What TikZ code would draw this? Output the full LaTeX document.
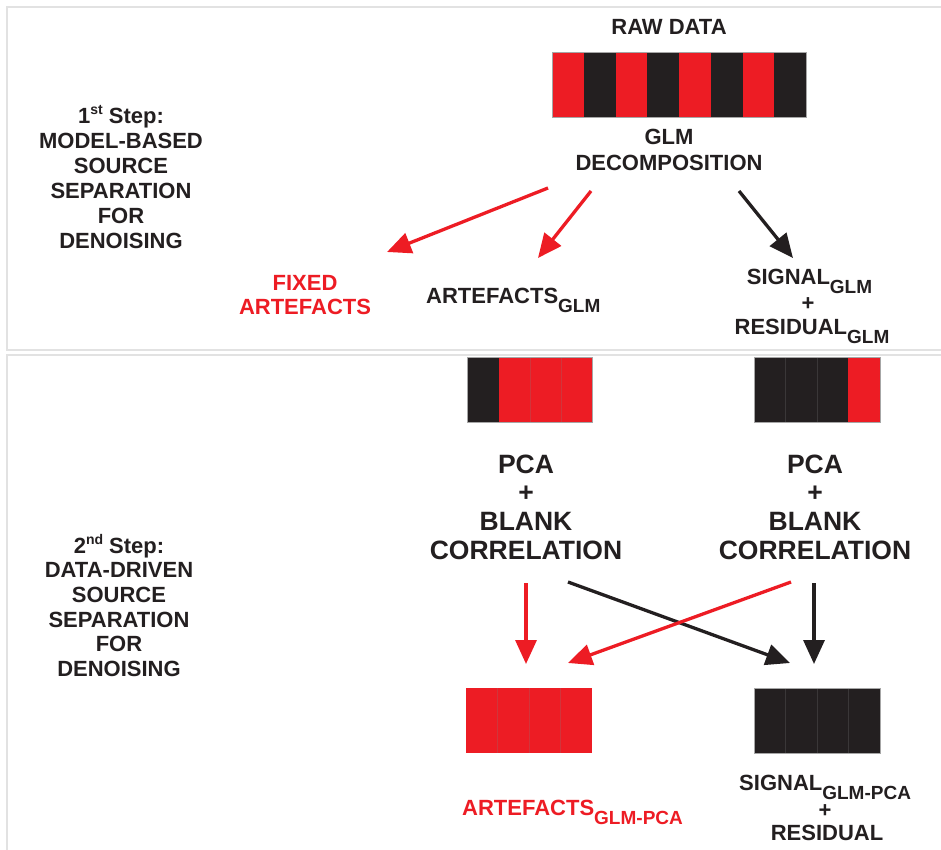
\documentclass[tikz,border=0pt]{standalone}
\usepackage{fontspec}
\setmainfont{Liberation Sans}
\usetikzlibrary{arrows.meta}
\definecolor{dred}{HTML}{ED1C24}
\definecolor{dblk}{HTML}{231F20}
\definecolor{pgray}{HTML}{E2E2E2}
\newcommand\lsub[1]{\raisebox{-9.5pt}{\fontsize{19}{19}\selectfont #1}}
\newcommand\lsup[1]{\raisebox{9pt}{\fontsize{14}{14}\selectfont #1}}
\tikzset{
  lbl/.style={font=\bfseries\fontsize{22}{25}\selectfont, text=dblk, inner sep=0pt, anchor=base},
  biglbl/.style={font=\bfseries\fontsize{26.5}{29}\selectfont, text=dblk, inner sep=0pt, anchor=base},
  redlbl/.style={lbl, text=dred},
  panel/.style={draw=pgray, line width=1.4pt},
  outline/.style={draw=black!35, line width=0.3pt},
  divline/.style={draw=gray, draw opacity=0.25, line width=0.3pt},
  arr/.style={line width=3.3pt, -{Triangle[length=24pt,width=21pt]}},
  redarr/.style={arr, draw=dred, fill=dred},
  blkarr/.style={arr, draw=dblk, fill=dblk},
}
\begin{document}
\begin{tikzpicture}[x=1pt,y=-1pt]
\useasboundingbox (0,0) rectangle (941,850);
\clip (0,0) rectangle (941,850);

% panels
\draw[panel] (7,7) rectangle (980,350);
\draw[panel] (7,355) rectangle (980,900);

% ---------- step 1 labels ----------
\node[lbl] (s1a) at (121,124) {1\lsup{st} Step:};
\node[lbl] (s1b) at (121,148.5) {MODEL-BASED};
\node[lbl] (s1c) at (121,173.5) {SOURCE};
\node[lbl] (s1d) at (121,198.5) {SEPARATION};
\node[lbl] (s1e) at (121,223.5) {FOR};
\node[lbl] (s1f) at (121,248.5) {DENOISING};

% ---------- step 2 labels ----------
\node[lbl] (s2a) at (119,553) {2\lsup{nd} Step:};
\node[lbl] (s2b) at (119,577.5) {DATA-DRIVEN};
\node[lbl] (s2c) at (119,602) {SOURCE};
\node[lbl] (s2d) at (119,627) {SEPARATION};
\node[lbl] (s2e) at (119,651.5) {FOR};
\node[lbl] (s2f) at (119,676) {DENOISING};

% ---------- raw data ----------
\node[lbl] (raw) at (669,35) {RAW DATA};
\foreach \i/\c in {0/dred,1/dblk,2/dred,3/dblk,4/dred,5/dblk,6/dred,7/dblk}
  \fill[\c] ({552+\i*31.75},52) rectangle ({552+(\i+1)*31.75},117);
\draw[outline] (552,52) rectangle (806,117);
\node[lbl] (glm1) at (669,145) {GLM};
\node[lbl] (glm2) at (669,171) {DECOMPOSITION};

% top results
\node[redlbl] (fix1) at (305,290) {FIXED};
\node[redlbl] (fix2) at (305,314) {ARTEFACTS};
\node[lbl, anchor=base west] (artg) at (426,303) {ARTEFACTS\lsub{GLM}};
\node[lbl] (sig1) at (809.5,284) {SIGNAL\lsub{GLM}};
\node[lbl] (plus1) at (808,310) {+};
\node[lbl] (res1) at (812,334) {RESIDUAL\lsub{GLM}};

% top arrows
\coordinate (a1s) at (548,188); \coordinate (a1e) at (387,252);
\coordinate (a2s) at (591,191); \coordinate (a2e) at (538,258);
\coordinate (a3s) at (739,191); \coordinate (a3e) at (793,258);
\draw[redarr] (a1s) -- (a1e);
\draw[redarr] (a2s) -- (a2e);
\draw[blkarr] (a3s) -- (a3e);

% ---------- second panel bars ----------
\fill[dblk] (467,357) rectangle (499,422);
\fill[dred] (499,357) rectangle (592,422);
\draw[divline] (530,357) -- (530,422) (561,357) -- (561,422);
\draw[outline] (467,357) rectangle (592,422);
\fill[dblk] (754,357) rectangle (848,422);
\fill[dred] (848,357) rectangle (880,422);
\draw[divline] (785,357) -- (785,422) (817,357) -- (817,422);
\draw[outline] (754,357) rectangle (880,422);

% PCA labels
\node[biglbl] (pl1) at (526,473) {PCA};
\node[biglbl] (pl2) at (526,501) {+};
\node[biglbl] (pl3) at (526,530) {BLANK};
\node[biglbl] (pl4) at (526,559) {CORRELATION};
\node[biglbl] (pr1) at (815,473) {PCA};
\node[biglbl] (pr2) at (815,501) {+};
\node[biglbl] (pr3) at (815,530) {BLANK};
\node[biglbl] (pr4) at (815,559) {CORRELATION};

% bottom arrows
\coordinate (b1s) at (526,583); \coordinate (b1e) at (526,664);
\coordinate (b2s) at (568,582); \coordinate (b2e) at (790,663);
\coordinate (b3s) at (791,582); \coordinate (b3e) at (568,663);
\coordinate (b4s) at (814,583); \coordinate (b4e) at (814,664);
\draw[redarr] (b1s) -- (b1e);
\draw[blkarr] (b2s) -- (b2e);
\draw[redarr] (b3s) -- (b3e);
\draw[blkarr] (b4s) -- (b4e);

% bottom bars
\fill[dred] (466,688) rectangle (592,753);
\draw[divline] (497.5,688) -- (497.5,753) (529,688) -- (529,753) (560.5,688) -- (560.5,753);
\fill[dblk] (754,688) rectangle (880,753);
\draw[divline] (785.5,688) -- (785.5,753) (817,688) -- (817,753) (848.5,688) -- (848.5,753);
\draw[outline] (754,688) rectangle (880,753);

% bottom labels
\node[redlbl, anchor=base west] (artp) at (462,815) {ARTEFACTS\lsub{GLM-PCA}};
\node[lbl, anchor=base west] (sig2) at (739,790) {SIGNAL\lsub{GLM-PCA}};
\node[lbl] (plus2) at (825,817) {+};
\node[lbl] (res2) at (827,840) {RESIDUAL};
\end{tikzpicture}
\end{document}
